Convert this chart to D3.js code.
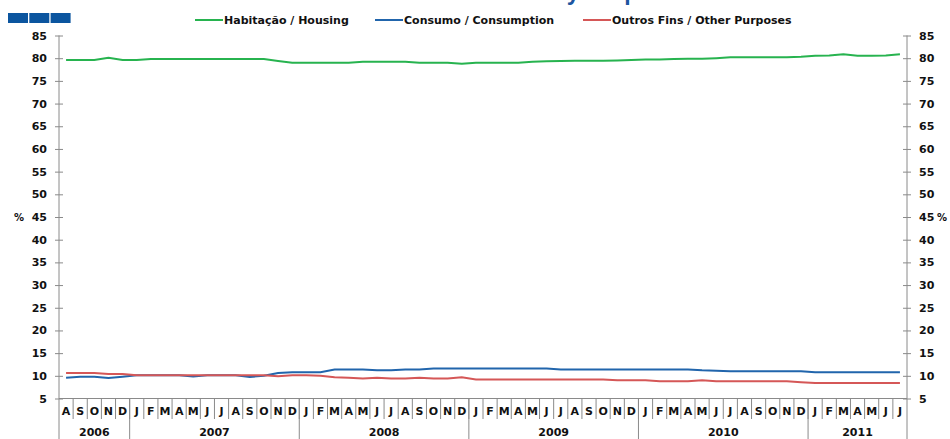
<!DOCTYPE html>
<html>
<head>
<meta charset="utf-8">
<script src="https://cdn.jsdelivr.net/npm/d3@7"></script>
<style>
  body { margin: 0; background: #fff; }
  svg text { font-family: "DejaVu Sans", sans-serif; font-weight: bold; fill: #111; }
</style>
</head>
<body>
<svg id="chart" width="950" height="439"></svg>
<script>
// months Aug 2006 - Jul 2011
const monthLabels = [
  "A","S","O","N","D",
  "J","F","M","A","M","J","J","A","S","O","N","D",
  "J","F","M","A","M","J","J","A","S","O","N","D",
  "J","F","M","A","M","J","J","A","S","O","N","D",
  "J","F","M","A","M","J","J","A","S","O","N","D",
  "J","F","M","A","M","J","J"
];
const years = ["2006", "2007", "2008", "2009", "2010", "2011"];
const monthsPerYear = [5, 12, 12, 12, 12, 7];

const housing = [
  79.6, 79.6, 79.6, 80.1, 79.6,
  79.6, 79.8, 79.8, 79.8, 79.8, 79.8, 79.8, 79.8, 79.8, 79.8, 79.4, 79.0,
  79.0, 79.0, 79.0, 79.0, 79.2, 79.2, 79.2, 79.2, 79.0, 79.0, 79.0, 78.8,
  79.0, 79.0, 79.0, 79.0, 79.2, 79.3, 79.4, 79.45, 79.45, 79.45, 79.5, 79.6,
  79.7, 79.7, 79.8, 79.85, 79.85, 80.0, 80.2, 80.2, 80.2, 80.2, 80.2, 80.3,
  80.55, 80.6, 80.85, 80.55, 80.55, 80.6, 80.85
];
const consumption = [
  9.6, 9.8, 9.8, 9.5, 9.8,
  10.1, 10.1, 10.1, 10.1, 9.85, 10.1, 10.1, 10.1, 9.75, 10.0, 10.6, 10.8,
  10.8, 10.8, 11.4, 11.4, 11.4, 11.2, 11.2, 11.4, 11.4, 11.6, 11.6, 11.6,
  11.6, 11.6, 11.6, 11.6, 11.6, 11.6, 11.4, 11.4, 11.4, 11.4, 11.4, 11.4,
  11.4, 11.4, 11.4, 11.4, 11.2, 11.1, 11.0, 11.0, 11.0, 11.0, 11.0, 11.0,
  10.8, 10.8, 10.8, 10.8, 10.8, 10.8, 10.8
];
const otherPurposes = [
  10.6, 10.6, 10.6, 10.4, 10.4,
  10.1, 10.1, 10.1, 10.1, 10.1, 10.1, 10.1, 10.1, 10.1, 10.1, 9.9, 10.1,
  10.1, 10.0, 9.7, 9.6, 9.4, 9.6, 9.4, 9.4, 9.6, 9.4, 9.4, 9.7,
  9.2, 9.2, 9.2, 9.2, 9.2, 9.2, 9.2, 9.2, 9.2, 9.2, 9.0, 9.0,
  9.0, 8.8, 8.8, 8.8, 9.0, 8.8, 8.8, 8.8, 8.8, 8.8, 8.8, 8.6,
  8.4, 8.4, 8.4, 8.4, 8.4, 8.4, 8.4
];
const yTicks = [5, 10, 15, 20, 25, 30, 35, 40, 45, 50, 55, 60, 65, 70, 75, 80, 85];

const seriesNames = ["Habitação / Housing", "Consumo / Consumption", "Outros Fins / Other Purposes"];
const seriesColors = ["#27b34f", "#2165ac", "#d55757"];
const seriesData = [housing, consumption, otherPurposes];

const svg = d3.select("#chart");
const plotLeft = 59, plotRight = 907, plotTop = 35.5, plotBottom = 398.5;
const axisColor = "#8a8a8a";

const x = d3.scaleBand().domain(d3.range(monthLabels.length)).range([plotLeft, plotRight]);
const y = d3.scaleLinear().domain([5, 85]).range([plotBottom, plotTop]);

// title, mostly above the visible area
svg.append("text")
  .attr("x", 324)
  .attr("y", 0)
  .style("font-family", "'Liberation Sans', Arial, sans-serif")
  .style("font-size", "23px")
  .style("fill", "#1d56a0")
  .text("Loans to Individuals by Purpose");

// three blue boxes
svg.selectAll(".box")
  .data([0, 1, 2])
  .enter().append("rect")
  .attr("x", d => 8 + d * 21.3)
  .attr("y", 13)
  .attr("width", 20)
  .attr("height", 10)
  .attr("fill", "#0b559f");

// legend
const legendX = [195, 375, 583];
const legend = svg.selectAll(".legend")
  .data(seriesNames)
  .enter().append("g")
  .attr("transform", (d, i) => `translate(${legendX[i]},20)`);
legend.append("line")
  .attr("x1", 0).attr("x2", 28)
  .attr("stroke", (d, i) => seriesColors[i])
  .attr("stroke-width", 2);
legend.append("text")
  .attr("x", 29)
  .attr("y", 4)
  .style("font-size", "11px")
  .text(d => d);

// y axes
function yAxis(g, side) {
  const axis = side === "left" ? d3.axisLeft(y) : d3.axisRight(y);
  axis.tickValues(yTicks).tickSizeInner(4).tickSizeOuter(0).tickPadding(8);
  g.call(axis);
  g.select(".domain").remove();
  g.selectAll(".tick line").attr("stroke", axisColor).attr("x1", side === "left" ? 4 : -4);
  g.selectAll(".tick text")
    .style("font-size", "11px")
    .style("font-family", "'DejaVu Sans', sans-serif")
    .attr("fill", "#111");
  g.append("line")
    .attr("y1", plotTop).attr("y2", 439)
    .attr("stroke", axisColor);
}
svg.append("g").attr("transform", `translate(${plotLeft},0)`).call(yAxis, "left");
svg.append("g").attr("transform", `translate(${plotRight},0)`).call(yAxis, "right");

svg.append("text").attr("x", 19).attr("y", y(45) + 4).attr("text-anchor", "middle").style("font-size", "10px").text("%");
svg.append("text").attr("x", 942).attr("y", y(45) + 4).attr("text-anchor", "middle").style("font-size", "10px").text("%");

// x axis
svg.append("line")
  .attr("x1", plotLeft).attr("x2", plotRight)
  .attr("y1", plotBottom).attr("y2", plotBottom)
  .attr("stroke", axisColor);

svg.selectAll(".mdiv")
  .data(d3.range(1, monthLabels.length))
  .enter().append("line")
  .attr("x1", d => x(d)).attr("x2", d => x(d))
  .attr("y1", plotBottom).attr("y2", 419)
  .attr("stroke", axisColor);

svg.selectAll(".mlab")
  .data(monthLabels)
  .enter().append("text")
  .attr("x", (d, i) => x(i) + x.bandwidth() / 2)
  .attr("y", 415)
  .attr("text-anchor", "middle")
  .style("font-size", "11px")
  .text(d => d);

const yearStart = monthsPerYear.map((n, i) => d3.sum(monthsPerYear.slice(0, i)));
svg.selectAll(".ydiv")
  .data(yearStart.slice(1))
  .enter().append("line")
  .attr("x1", d => x(d)).attr("x2", d => x(d))
  .attr("y1", plotBottom).attr("y2", 439)
  .attr("stroke", axisColor);

svg.selectAll(".ylab")
  .data(years)
  .enter().append("text")
  .attr("x", (d, i) => (x(yearStart[i]) + x(yearStart[i] + monthsPerYear[i] - 1) + x.bandwidth()) / 2)
  .attr("y", 436)
  .attr("text-anchor", "middle")
  .style("font-size", "11px")
  .text(d => d);

// lines
const line = d3.line()
  .x((d, i) => x(i) + x.bandwidth() / 2)
  .y(d => y(d));

svg.selectAll(".series")
  .data(seriesData)
  .enter().append("path")
  .attr("d", d => line(d))
  .attr("fill", "none")
  .attr("stroke", (d, i) => seriesColors[i])
  .attr("stroke-width", 2);
</script>
</body>
</html>
